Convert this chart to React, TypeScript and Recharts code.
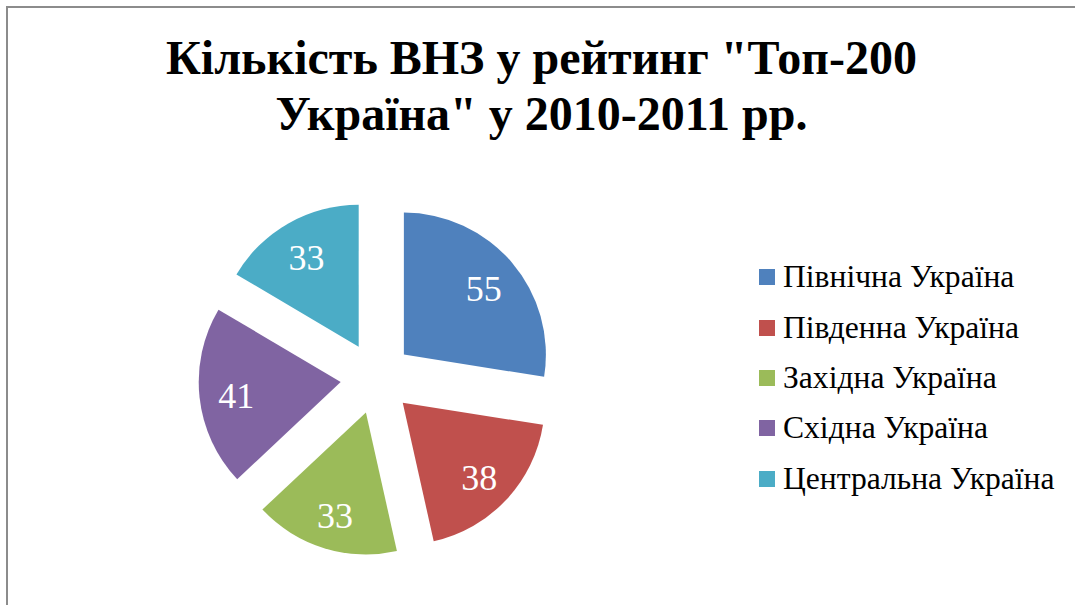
import { PieChart, Pie, Cell } from 'recharts'

const regions = ['Північна Україна', 'Південна Україна', 'Західна Україна', 'Східна Україна', 'Центральна Україна']
const counts = [55, 38, 33, 41, 33]
const colors = ['#4F81BD', '#C0504D', '#9BBB59', '#8064A2', '#4BACC6']

const titleLines = ['Кількість ВНЗ у рейтинг "Топ-200', 'Україна" у 2010-2011 рр.']

const RADIAN = Math.PI / 180
const CX = 376.5
const CY = 378
const R = 142
const EXPLODE = 36
const serif = 'Liberation Serif'

const chartData = regions.map((name, i) => ({ name, value: counts[i] }))
const total = counts.reduce((a, b) => a + b, 0)

// mid angle of each slice, degrees clockwise from 12 o'clock
function midAngles() {
  let acc = 0
  return counts.map((v) => {
    const mid = acc + (v / total) * 180
    acc += (v / total) * 360
    return mid
  })
}

const mids = midAngles()

function makeLabel(slice: number) {
  return (props: any) => {
    const { cx, cy, midAngle, outerRadius, index, value } = props
    if (index !== slice) return null
    const r = outerRadius * 0.74
    const x = cx + r * Math.cos(-midAngle * RADIAN)
    const y = cy + r * Math.sin(-midAngle * RADIAN) + 3
    return (
      <text
        x={x}
        y={y}
        fill="#FFFFFF"
        textAnchor="middle"
        dominantBaseline="central"
        fontFamily={serif}
        fontSize={36}
      >
        {value}
      </text>
    )
  }
}

export default function App() {
  return (
    <div style={{ position: 'absolute', left: 0, top: 0, width: 1075, height: 605, overflow: 'hidden', background: '#fff' }}>
      <div
        style={{
          position: 'absolute',
          left: 6,
          top: 6,
          width: 1200,
          height: 800,
          borderLeft: '2px solid #8C8C8C',
          borderTop: '2px solid #8C8C8C',
        }}
      />
      <div
        style={{
          position: 'absolute',
          left: 0,
          top: 30,
          width: 1083,
          textAlign: 'center',
          fontFamily: serif,
          fontWeight: 'bold',
          fontSize: 48,
          lineHeight: '56px',
          color: '#000',
        }}
      >
        {titleLines.map((t) => (
          <div key={t}>{t}</div>
        ))}
      </div>
      <div style={{ position: 'absolute', left: 0, top: 0 }}>
        <PieChart width={1075} height={605} margin={{ top: 0, right: 0, bottom: 0, left: 0 }}>
          {mids.map((mid, i) => (
            <Pie
              key={i}
              data={chartData}
              dataKey="value"
              nameKey="name"
              cx={CX + EXPLODE * Math.sin(mid * RADIAN)}
              cy={CY - EXPLODE * Math.cos(mid * RADIAN)}
              outerRadius={R}
              startAngle={90}
              endAngle={-270}
              stroke="none"
              label={makeLabel(i)}
              labelLine={false}
              isAnimationActive={false}
            >
              {chartData.map((d, j) => (
                <Cell key={d.name} fill={j === i ? colors[j] : 'none'} stroke="none" />
              ))}
            </Pie>
          ))}
        </PieChart>
      </div>
      <div style={{ position: 'absolute', left: 759, top: 252, fontFamily: serif, fontSize: 31.6, color: '#000' }}>
        {regions.map((name, i) => (
          <div key={name} style={{ display: 'flex', alignItems: 'center', height: 50.4 }}>
            <span style={{ display: 'inline-block', width: 16, height: 16, background: colors[i], marginRight: 8 }} />
            <span style={{ lineHeight: '36px' }}>{name}</span>
          </div>
        ))}
      </div>
    </div>
  )
}
